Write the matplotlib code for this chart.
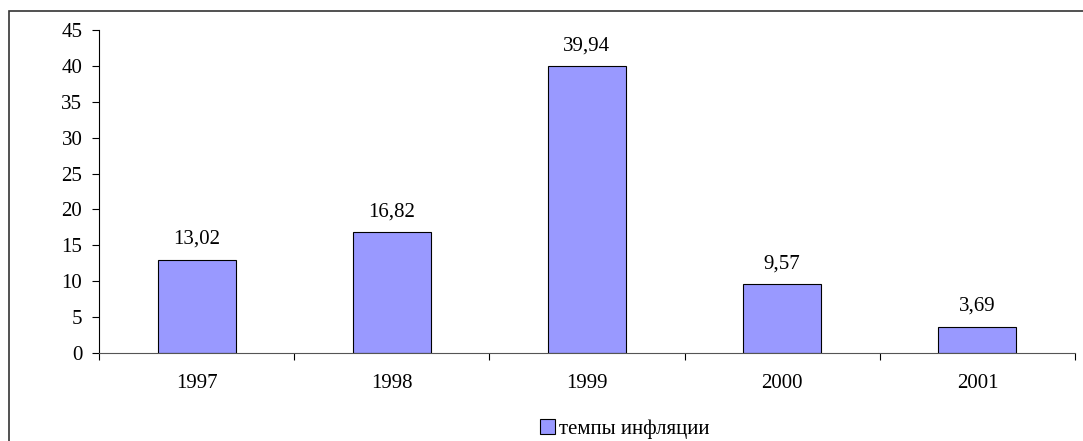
import matplotlib
matplotlib.use('Agg')
import matplotlib.pyplot as plt
from matplotlib.patches import Rectangle

# данные
years = ['1997', '1998', '1999', '2000', '2001']
inflation = [13.02, 16.82, 39.94, 9.57, 3.69]
series_name = 'темпы инфляции'

plt.rcParams['font.family'] = ['Liberation Serif', 'DejaVu Serif']

fig = plt.figure(figsize=(10.83, 4.41), dpi=100)
W, H = 1083, 441
ax = fig.add_axes([99 / W, 1 - 353 / H, (1075 - 99) / W, (353 - 30) / H])

x = range(len(years))
bars = ax.bar(x, inflation, width=0.4, color='#9999FF', edgecolor='black',
              linewidth=0.8, label=series_name, zorder=2)

for xi, v in zip(x, inflation):
    ax.annotate(f'{v:.2f}'.replace('.', ','), (xi, v), xytext=(0, 8),
                textcoords='offset points', ha='center', va='bottom', fontsize=15)

ax.set_xlim(-0.5, len(years) - 0.5)
ax.set_ylim(0, 45)
ax.set_yticks(range(0, 46, 5))
ax.set_xticks(list(x))
ax.set_xticklabels(years)
ax.set_xticks([i - 0.5 for i in range(len(years) + 1)], minor=True)
ax.tick_params(axis='x', which='major', length=0, pad=15, labelsize=15)
ax.tick_params(axis='x', which='minor', length=5, direction='out', width=0.8)
ax.tick_params(axis='y', length=5, direction='out', width=0.8, labelsize=15, pad=7)

for s in ['top', 'right']:
    ax.spines[s].set_visible(False)
ax.spines['left'].set_linewidth(0.8)
ax.spines['bottom'].set_linewidth(0.8)
ax.spines['bottom'].set_color('#555555')

leg = fig.legend(loc='center', bbox_to_anchor=(625 / W, 1 - 429 / H), frameon=False,
                 fontsize=15, handlelength=0.7, handleheight=0.7, handletextpad=0.2)

# рамка вокруг диаграммы
fig.patches.append(Rectangle((9 / W, -0.1), 1.2, 1 - 11 / H + 0.1, transform=fig.transFigure,
                             fill=False, edgecolor='#333333', linewidth=1.2))

fig.savefig('out.png', dpi=100)
